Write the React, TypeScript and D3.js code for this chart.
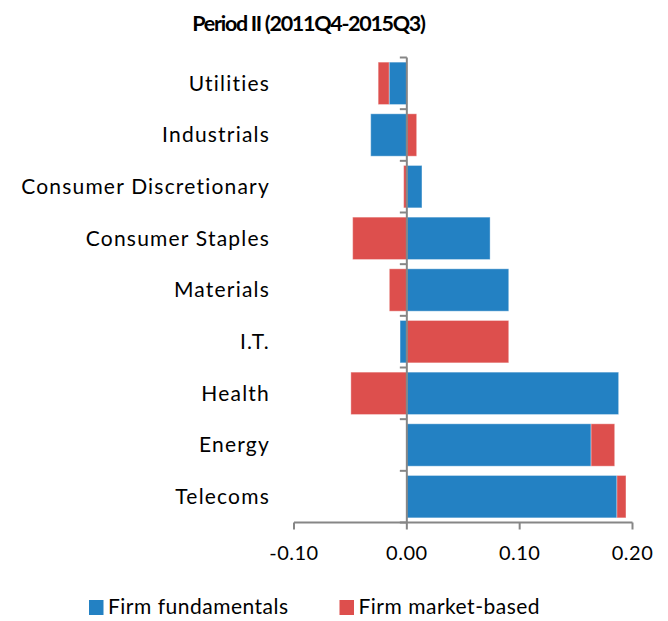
import React from "react";
import * as d3 from "d3";

const categories = [
  "Utilities",
  "Industrials",
  "Consumer Discretionary",
  "Consumer Staples",
  "Materials",
  "I.T.",
  "Health",
  "Energy",
  "Telecoms",
];
const fundamentals = [-0.0157, -0.032, 0.0134, 0.0738, 0.0903, -0.006, 0.1877, 0.1633, 0.1862];
const marketBased = [-0.0097, 0.0087, -0.0028, -0.048, -0.0155, 0.0903, -0.0496, 0.0209, 0.008];
const xTicks = [-0.1, 0, 0.1, 0.2];
const seriesNames = ["Firm fundamentals", "Firm market-based"];
const colors = ["#2381C3", "#DD4F4D"];
const title = "Period II (2011Q4-2015Q3)";

export default function App() {
  const W = 668;
  const H = 621;
  const x = d3.scaleLinear().domain([-0.1, 0.2]).range([294, 632.5]);
  const y = d3.scaleBand<string>().domain(categories).range([57.5, 522.5]).paddingInner(0.18).paddingOuter(0.09);
  const bandStep = y.step();
  const top = 57.5;
  const bottom = 522.5;
  const font = "Lato, 'Open Sans', sans-serif";
  const axisColor = "#868686";
  const fmt = (t: number) => d3.format(".2f")(t).replace("\u2212", "-");

  const rows = categories.map((c, i) => {
    const f = fundamentals[i];
    const m = marketBased[i];
    let pos = 0;
    let neg = 0;
    const segs: { x0: number; x1: number; color: string }[] = [];
    [f, m].forEach((v, k) => {
      if (v >= 0) {
        segs.push({ x0: pos, x1: pos + v, color: colors[k] });
        pos += v;
      } else {
        segs.push({ x0: neg + v, x1: neg, color: colors[k] });
        neg += v;
      }
    });
    return { c, segs };
  });

  const boundaries = d3.range(categories.length + 1).map((i) => top + i * bandStep);

  return (
    <svg width={W} height={H} style={{ position: "absolute", left: 0, top: 0 }}>
      <rect width={W} height={H} fill="#fff" />
      <text x={308.5} y={31} textAnchor="middle" fontFamily={font} fontWeight="bold" fontSize={21.5} letterSpacing={-1.3} fill="#000">
        {title}
      </text>
      {rows.map((r) =>
        r.segs.map((s, k) => (
          <rect
            key={r.c + k}
            x={x(s.x0)}
            y={y(r.c)!}
            width={x(s.x1) - x(s.x0)}
            height={y.bandwidth()}
            fill={s.color}
            stroke="#fff"
            strokeOpacity={0.35}
            strokeWidth={1}
          />
        ))
      )}
      {categories.map((c) => (
        <text
          key={c}
          x={270}
          y={y(c)! + y.bandwidth() / 2}
          dy="0.35em"
          textAnchor="end"
          fontFamily={font}
          fontSize={21}
          letterSpacing={1.2}
          fill="#000"
        >
          {c}
        </text>
      ))}
      <line x1={x(0)} x2={x(0)} y1={top} y2={bottom} stroke={axisColor} strokeWidth={2} />
      {boundaries.map((b, i) => (
        <line key={i} x1={x(0) - 7} x2={x(0)} y1={b} y2={b} stroke={axisColor} strokeWidth={2} />
      ))}
      <line x1={x(-0.1)} x2={x(0.2)} y1={bottom} y2={bottom} stroke={axisColor} strokeWidth={2} />
      {xTicks.map((t) => (
        <g key={t}>
          <line x1={x(t)} x2={x(t)} y1={bottom} y2={bottom + 7} stroke={axisColor} strokeWidth={2} />
          <text x={x(t)} y={560} textAnchor="middle" fontFamily={font} fontSize={20} letterSpacing={0.5} fill="#000">
            {fmt(t)}
          </text>
        </g>
      ))}
      {seriesNames.map((n, i) => {
        const lx = i === 0 ? 89 : 339.5;
        return (
          <g key={n}>
            <rect x={lx} y={600} width={14.5} height={15} fill={colors[i]} />
            <text x={lx + 19} y={614} fontFamily={font} fontSize={21} letterSpacing={0.5} fill="#000">
              {n}
            </text>
          </g>
        );
      })}
    </svg>
  );
}
